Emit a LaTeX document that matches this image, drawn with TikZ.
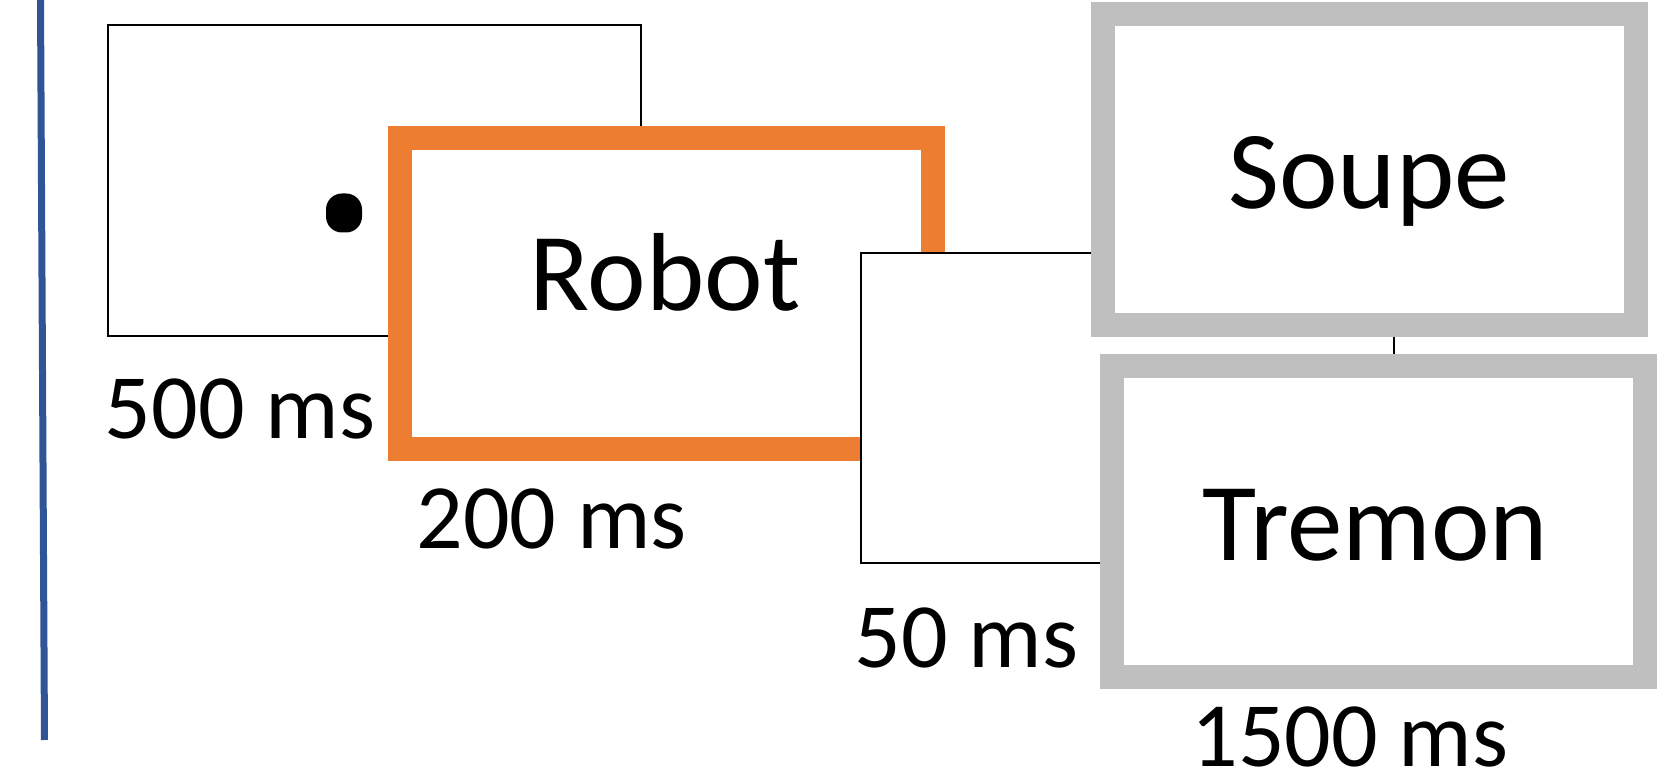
\documentclass[tikz,border=0pt]{standalone}
\usepackage{fontspec}
\setmainfont{Carlito}
\definecolor{orangeframe}{HTML}{ED7D31}
\definecolor{greyframe}{HTML}{BFBFBF}
\definecolor{bluebar}{HTML}{2F5597}
\tikzset{
  screenbox/.style={draw=black, line width=1pt, fill=white, inner sep=0pt,
    minimum width=266.5pt, minimum height=155.5pt},
  primebox/.style={screenbox, draw=orangeframe, line width=12pt},
  targetbox/.style={screenbox, draw=greyframe, line width=12pt},
  durlabel/.style={inner sep=0pt, anchor=base, font=\fontsize{46}{50}\selectfont},
  wordlabel/.style={inner sep=0pt, anchor=base, font=\fontsize{55.5}{60}\selectfont},
}
\begin{document}
\begin{tikzpicture}[x=0.5pt, y=-0.5pt]
\useasboundingbox (0,0) rectangle (1667,774);
% blue vertical bar
\coordinate (bluetop) at (40.5,0);
\coordinate (bluebot) at (44.5,740);
\draw[bluebar, line width=3.5pt] (bluetop) -- (bluebot);
% fixation screen
\node[screenbox] (fix) at (374.5,180.3) {};
\node[fill=black, rounded corners=8pt, minimum width=18pt, minimum height=19.5pt, inner sep=0pt] (dot) at (344,213) {};
% prime
\node[primebox] (prime) at (666.5,293.5) {};
% blank
\node[screenbox, minimum height=155pt] (blank) at (1127.5,408) {};
% targets
\node[targetbox] (soupe) at (1369.5,169.5) {};
\node[targetbox] (tremon) at (1378,521.5) {};
% words
\node[wordlabel] (trobot) at (665,310.7) {Robot};
\node[wordlabel] (tsoupe) at (1369,209) {Soupe};
\node[wordlabel] (ttremon) at (1375.5,561) {Tremon};
% durations
\node[durlabel] (d500) at (240,439) {500 ms};
\node[durlabel] (d200) at (551.5,549) {200 ms};
\node[durlabel] (d50) at (966.5,668) {50 ms};
\node[durlabel] (d1500) at (1350,767) {1500 ms};
\end{tikzpicture}
\end{document}
